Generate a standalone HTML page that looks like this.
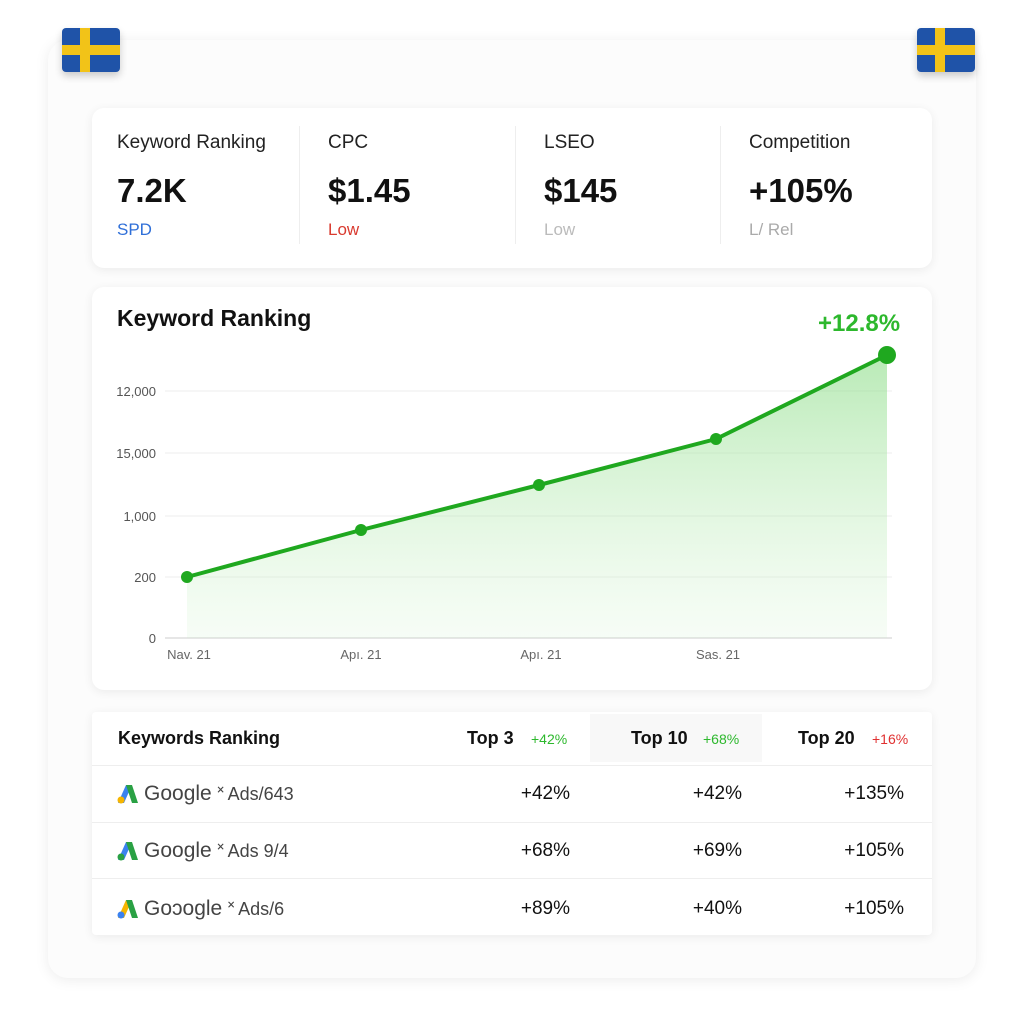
<!DOCTYPE html>
<html><head><meta charset="utf-8"><style>
body{margin:0;width:1024px;height:1024px;background:#fff;font-family:"Liberation Sans",sans-serif;position:relative;overflow:hidden}
.abs{position:absolute}
.outer{left:48px;top:40px;width:928px;height:938px;background:#fcfcfc;border-radius:20px;box-shadow:0 2px 14px rgba(0,0,0,.08)}
.card{background:#fff;border-radius:12px;box-shadow:0 2px 10px rgba(0,0,0,.07)}
.flag{width:58px;height:44px;background:#1f53a8;border-radius:4px;box-shadow:0 4px 8px rgba(0,0,0,.2)}
.flag:before{content:"";position:absolute;left:18px;top:0;width:10px;height:44px;background:#f2c318}
.flag:after{content:"";position:absolute;left:0;top:17px;width:58px;height:10px;background:#f2c318}
.lbl{font-size:19px;color:#222}
.big{font-size:33px;font-weight:bold;color:#111}
.sub{font-size:17px}
.sep{width:1px;height:118px;background:#eee;top:126px}
.th{font-size:18px;font-weight:bold;color:#111}
.num{font-size:19px;color:#111;text-align:right;width:100px}
.g{font-size:21px;color:#444}
.row{left:92px;width:840px;height:1px;background:#eee}
</style></head><body>
<div class="abs outer"></div>
<div class="abs flag" style="left:62px;top:28px"></div>
<div class="abs flag" style="left:917px;top:28px"></div>

<div class="abs card" style="left:92px;top:108px;width:840px;height:160px"></div>
<div class="abs lbl" style="left:117px;top:132px">Keyword Ranking</div>
<div class="abs big" style="left:117px;top:172px">7.2K</div>
<div class="abs sub" style="left:117px;top:220px;color:#2f6fd8">SPD</div>
<div class="abs sep" style="left:299px"></div>
<div class="abs lbl" style="left:328px;top:132px">CPC</div>
<div class="abs big" style="left:328px;top:172px">$1.45</div>
<div class="abs sub" style="left:328px;top:220px;color:#d93a2f">Low</div>
<div class="abs sep" style="left:515px"></div>
<div class="abs lbl" style="left:544px;top:132px">LSEO</div>
<div class="abs big" style="left:544px;top:172px">$145</div>
<div class="abs sub" style="left:544px;top:220px;color:#bbb">Low</div>
<div class="abs sep" style="left:720px"></div>
<div class="abs lbl" style="left:749px;top:132px">Competition</div>
<div class="abs big" style="left:749px;top:172px">+105%</div>
<div class="abs sub" style="left:749px;top:220px;color:#aaa">L/ Rel</div>

<div class="abs card" style="left:92px;top:287px;width:840px;height:403px"></div>
<div class="abs" style="left:117px;top:305px;font-size:23px;font-weight:bold;color:#111">Keyword Ranking</div>
<div class="abs" style="left:818px;top:310px;font-size:24px;font-weight:bold;color:#2db82d">+12.8%</div>
<svg class="abs" style="left:0;top:0" width="1024" height="700">
<defs><linearGradient id="gr" x1="0" y1="0" x2="0" y2="1"><stop offset="0" stop-color="#7fd97a" stop-opacity=".55"/><stop offset="1" stop-color="#c8f0c4" stop-opacity=".15"/></linearGradient></defs>
<g stroke="#eee" stroke-width="1"><line x1="165" y1="391" x2="892" y2="391"/><line x1="165" y1="453" x2="892" y2="453"/><line x1="165" y1="516" x2="892" y2="516"/><line x1="165" y1="577" x2="892" y2="577"/></g>
<line x1="165" y1="638" x2="892" y2="638" stroke="#ccc"/>
<polygon points="187,577 361,530 539,485 716,439 887,355 887,638 187,638" fill="url(#gr)"/>
<polyline points="187,577 361,530 539,485 716,439 887,355" fill="none" stroke="#1fa81f" stroke-width="4" stroke-linejoin="round"/>
<g fill="#1fa81f"><circle cx="187" cy="577" r="6"/><circle cx="361" cy="530" r="6"/><circle cx="539" cy="485" r="6"/><circle cx="716" cy="439" r="6"/><circle cx="887" cy="355" r="9"/></g>
<g font-family="Liberation Sans" font-size="13" fill="#555" text-anchor="end"><text x="156" y="396">12,000</text><text x="156" y="458">15,000</text><text x="156" y="521">1,000</text><text x="156" y="582">200</text><text x="156" y="643">0</text></g>
<g font-family="Liberation Sans" font-size="13" fill="#666" text-anchor="middle"><text x="189" y="659">Nav. 21</text><text x="361" y="659">Apı. 21</text><text x="541" y="659">Apı. 21</text><text x="718" y="659">Sas. 21</text></g>
</svg>

<div class="abs card" style="left:92px;top:712px;width:840px;height:223px;border-radius:4px"></div>
<div class="abs" style="left:590px;top:714px;width:172px;height:48px;background:#f8f8f8"></div>
<div class="abs th" style="left:118px;top:728px">Keywords Ranking</div>
<div class="abs th" style="left:467px;top:728px">Top 3</div><div class="abs" style="left:531px;top:731px;font-size:14px;color:#2db82d">+42%</div>
<div class="abs th" style="left:631px;top:728px">Top 10</div><div class="abs" style="left:703px;top:731px;font-size:14px;color:#2db82d">+68%</div>
<div class="abs th" style="left:798px;top:728px">Top 20</div><div class="abs" style="left:872px;top:731px;font-size:14px;color:#e03030">+16%</div>
<div class="abs row" style="top:765px"></div><div class="abs row" style="top:822px"></div><div class="abs row" style="top:878px"></div>
<svg class="abs" style="left:0;top:0" width="1024" height="1024">
<g><polygon points="118,803 126,785 132,785 124,803" fill="#3b82f0"/><polygon points="126,785 132,785 138,803 132,803" fill="#2aa144"/><circle cx="121" cy="800" r="3.5" fill="#f6b500"/></g>
<g><polygon points="118,860 126,842 132,842 124,860" fill="#3b82f0"/><polygon points="126,842 132,842 138,860 132,860" fill="#2aa144"/><circle cx="121" cy="857" r="3.5" fill="#2aa144"/></g>
<g><polygon points="118,918 126,900 132,900 124,918" fill="#f6b500"/><polygon points="126,900 132,900 138,918 132,918" fill="#2aa144"/><circle cx="121" cy="915" r="3.5" fill="#3b82f0"/></g>
</svg>
<div class="abs g" style="left:144px;top:782px">Google <span style="font-size:18px">˟ Ads/643</span></div>
<div class="abs g" style="left:144px;top:839px">Google <span style="font-size:18px">˟ Ads 9/4</span></div>
<div class="abs g" style="left:144px;top:897px">Goɔogle <span style="font-size:18px">˟ Ads/6</span></div>
<div class="abs num" style="left:470px;top:783px">+42%</div><div class="abs num" style="left:642px;top:783px">+42%</div><div class="abs num" style="left:804px;top:783px">+135%</div>
<div class="abs num" style="left:470px;top:840px">+68%</div><div class="abs num" style="left:642px;top:840px">+69%</div><div class="abs num" style="left:804px;top:840px">+105%</div>
<div class="abs num" style="left:470px;top:898px">+89%</div><div class="abs num" style="left:642px;top:898px">+40%</div><div class="abs num" style="left:804px;top:898px">+105%</div>
</body></html>
